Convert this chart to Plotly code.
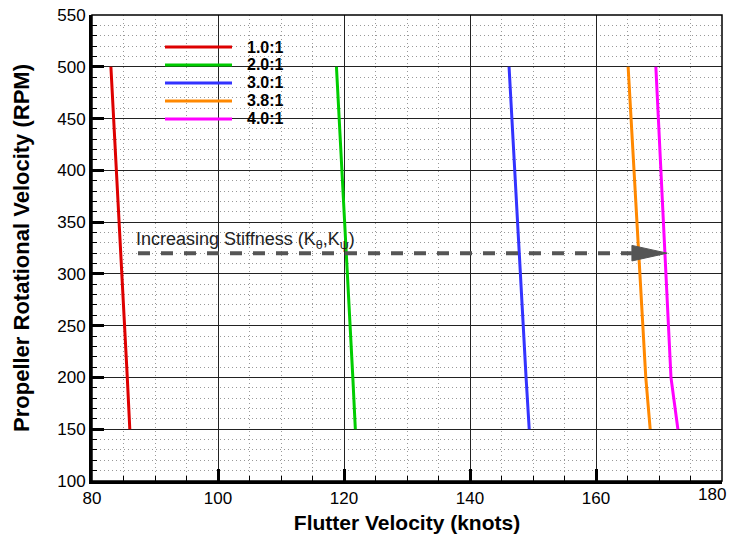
import plotly.graph_objects as go

rpm = [150, 200, 500]
series_names = ["1.0:1", "2.0:1", "3.0:1", "3.8:1", "4.0:1"]
series_colors = ["#dd0000", "#00cc00", "#3333ff", "#ff8800", "#ff00ff"]
vel_10 = [86.0, 85.6, 83.0]
vel_20 = [121.8, 121.4, 118.8]
vel_30 = [149.4, 148.9, 146.2]
vel_38 = [168.6, 167.9, 165.1]
vel_40 = [173.0, 171.9, 169.5]
series_vals = [vel_10, vel_20, vel_30, vel_38, vel_40]

x_tickvals = [80, 100, 120, 140, 160]
x_last_tick = 180

arrow_x0, arrow_x1, arrow_tip, arrow_y = 87.3, 165.7, 171.3, 320
arrow_half_h = 7.5
label_x, label_y = 86.6, 332

font = "Liberation Sans, Arial, Helvetica, sans-serif"
fig = go.Figure()

for name, col, vals in zip(series_names, series_colors, series_vals):
    fig.add_trace(go.Scatter(x=vals, y=rpm, mode="lines", name=name,
                             line=dict(color=col, width=3), showlegend=False))

# dashed arrow shaft
fig.add_trace(go.Scatter(x=[arrow_x0, arrow_x1], y=[arrow_y, arrow_y], mode="lines",
                         line=dict(color="#555555", width=4, dash="12px,11px"),
                         showlegend=False, hoverinfo="skip"))
# arrow head
fig.add_trace(go.Scatter(x=[arrow_x1, arrow_tip, arrow_x1, arrow_x1],
                         y=[arrow_y + arrow_half_h, arrow_y, arrow_y - arrow_half_h, arrow_y + arrow_half_h],
                         mode="lines", fill="toself", fillcolor="#555555",
                         line=dict(color="#555555", width=1),
                         showlegend=False, hoverinfo="skip"))

fig.add_annotation(x=label_x, y=label_y, xanchor="left", yanchor="middle", showarrow=False,
                   text="Increasing Stiffness (K<sub>θ</sub>,K<sub>ψ</sub>)",
                   font=dict(family=font, size=18, color="#222"))

# legend box (drawn in paper coordinates)
plot_w, plot_h = 630, 466
leg_line_x0, leg_line_x1, leg_text_x = 73, 140, 153   # px from plot left
leg_row0, leg_row_step = 434, 18                       # px from plot bottom
for i, (name, col) in enumerate(zip(series_names, series_colors)):
    yp = (leg_row0 - i * leg_row_step) / plot_h
    fig.add_shape(type="line", xref="paper", yref="paper",
                  x0=leg_line_x0 / plot_w, x1=leg_line_x1 / plot_w, y0=yp, y1=yp,
                  line=dict(color=col, width=3), layer="above")
    fig.add_annotation(x=leg_text_x / plot_w, y=yp, xref="paper", yref="paper",
                       xanchor="left", yanchor="middle", showarrow=False, text=f"<b>{name}</b>",
                       font=dict(family=font, size=16, color="black"))

# last x tick label, kept inside the page
fig.add_annotation(x=x_last_tick, y=0, xref="x", yref="paper", yanchor="top", xanchor="center",
                   xshift=-10, yshift=-2, showarrow=False, text=str(x_last_tick),
                   font=dict(family=font, size=17, color="black"))

axis_common = dict(showline=True, linecolor="black", linewidth=3, ticks="inside",
                   tickcolor="black", tickwidth=3, ticklen=12,
                   showgrid=True, gridcolor="#222222", gridwidth=1, zeroline=False,
                   tickfont=dict(family=font, size=17, color="black"),
                   mirror=False, automargin=False)

minor_common = dict(ticks="inside", ticklen=5, tickwidth=1, tickcolor="black",
                    showgrid=True, gridcolor="#999999", griddash="1px,3px", gridwidth=1)

fig.update_xaxes(range=[80, 180], tickvals=x_tickvals,
                 title=dict(text="<b>Flutter Velocity (knots)</b>", font=dict(family=font, size=21, color="black"), standoff=8),
                 minor=dict(dtick=5, tick0=80, **minor_common),
                 **axis_common)
fig.update_yaxes(range=[100, 550], dtick=50, tick0=100,
                 title=dict(text="<b>Propeller Rotational Velocity (RPM)</b>", font=dict(family=font, size=22, color="black"), standoff=22),
                 minor=dict(dtick=10, tick0=100, **minor_common),
                 **axis_common)

fig.add_shape(type="rect", xref="paper", yref="paper", x0=0, x1=1, y0=0, y1=1,
              line=dict(color="black", width=1.5), layer="above")

fig.update_layout(width=732, height=540, margin=dict(l=92, r=10, t=15, b=59),
                  plot_bgcolor="white", paper_bgcolor="white", showlegend=False,
                  font=dict(family=font))

fig.write_html("out.html", config={"displayModeBar": False})

with open("out.html", "r", encoding="utf-8") as f:
    html = f.read()
html = html.replace("<head>", "<head><style>html,body{margin:0;padding:0;overflow:hidden;}</style>", 1)
with open("out.html", "w", encoding="utf-8") as f:
    f.write(html)
